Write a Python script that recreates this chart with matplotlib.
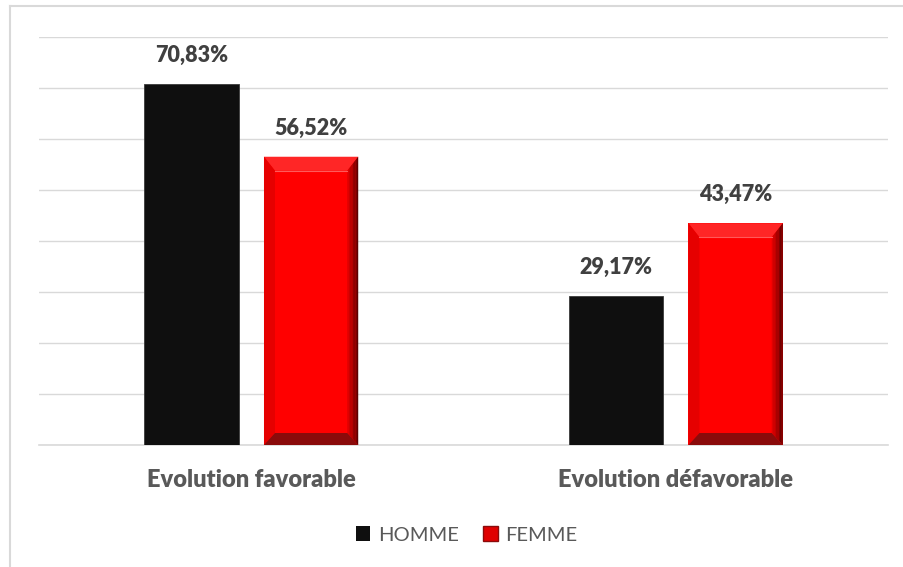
import matplotlib.pyplot as plt
from matplotlib.patches import Polygon, Patch
import numpy as np

categories = ["Evolution favorable", "Evolution défavorable"]
homme = [70.83, 29.17]
femme = [56.52, 43.47]
series_names = ["HOMME", "FEMME"]

plt.rcParams['font.family'] = ['Lato', 'DejaVu Sans']

W, H = 904, 567
fig = plt.figure(figsize=(W / 100, H / 100), dpi=100)
ax = fig.add_axes([39 / W, 1 - 445 / H, (888 - 39) / W, (445 - 37) / H])

# outer frame of the chart area (top and left edges only visible)
fig.add_artist(plt.Line2D([9.5 / W, 1.0], [1 - 6 / H, 1 - 6 / H], color="#d9d9d9", lw=1.5))
fig.add_artist(plt.Line2D([9.5 / W, 9.5 / W], [0, 1 - 6 / H], color="#d9d9d9", lw=1.5))

x = np.arange(len(categories))
width = 0.222
offset = 0.141

ax.set_xlim(-0.5, 1.5)
ax.set_ylim(0, 80)
ax.set_yticks(np.arange(0, 81, 10))
ax.yaxis.grid(True, color="#d9d9d9", lw=1)
ax.axhline(0, color="#d9d9d9", lw=1.2, clip_on=False, zorder=1)
ax.set_axisbelow(True)
for s in ax.spines.values():
    s.set_visible(False)
ax.tick_params(axis="y", left=False, labelleft=False)
ax.tick_params(axis="x", bottom=False, pad=14)

bars_h = ax.bar(x - offset, homme, width, color="#0f0f0f", edgecolor="#3a3a3a", lw=0.6, zorder=2)
bars_f = ax.bar(x + offset, femme, width, color="#ff0000", zorder=2)

# pixel -> data scale for the bevel on red bars
px_x = (1.5 - -0.5) / (888 - 39)
px_y = 80 / (445 - 37)


def bevel(ax, bar, bx=11, bt=14, bb=12):
    x0, y0 = bar.get_x(), bar.get_y()
    w, h = bar.get_width(), bar.get_height()
    x1, y1 = x0 + w, y0 + h
    dx, dt, db = bx * px_x, bt * px_y, bb * px_y
    ix0, ix1, iy0, iy1 = x0 + dx, x1 - dx, y0 + db, y1 - dt
    # top facet, lighter
    ax.add_patch(Polygon([(x0, y1), (x1, y1), (ix1, iy1), (ix0, iy1)], color="#ff2626", lw=0, zorder=3))
    # left facet
    ax.add_patch(Polygon([(x0, y0), (x0, y1), (ix0, iy1), (ix0, iy0)], color="#e60000", lw=0, zorder=3))
    # right facet, graded toward dark maroon
    n = 8
    cols = np.linspace([0.88, 0.0, 0.0], [0.36, 0.0, 0.0], n)
    for i in range(n):
        a = i / n
        b = (i + 1) / n
        xa, xb = ix1 + (x1 - ix1) * a, ix1 + (x1 - ix1) * b
        ya_t, yb_t = iy1 + (y1 - iy1) * a, iy1 + (y1 - iy1) * b
        ya_b, yb_b = iy0 - (iy0 - y0) * a, iy0 - (iy0 - y0) * b
        ax.add_patch(Polygon([(xa, ya_b), (xa, ya_t), (xb, yb_t), (xb, yb_b)],
                             color=cols[i], lw=0, zorder=3))
    # bottom facet, dark
    ax.add_patch(Polygon([(x0, y0), (x1, y0), (ix1, iy0), (ix0, iy0)], color="#8a0b0b", lw=0, zorder=3))
    # thin highlight line at inner top edge
    ax.plot([ix0, ix1], [iy1, iy1], color="#ff5a5a", lw=0.8, zorder=4)


for b in bars_f:
    bevel(ax, b)

for bars, vals in [(bars_h, homme), (bars_f, femme)]:
    for b, v in zip(bars, vals):
        ax.annotate(f"{v:.2f}%".replace(".", ","), (b.get_x() + b.get_width() / 2, v),
                    xytext=(0, 13), textcoords="offset points", ha="center", va="bottom",
                    fontsize=15.5, fontweight="heavy", color="#404040")

ax.set_xticks(x)
ax.set_xticklabels(categories, fontsize=17, fontweight="heavy", color="#595959")

handles = [Patch(facecolor="#0f0f0f"), Patch(facecolor="#e00000", edgecolor="#8a0b0b")]
fig.legend(handles, series_names, loc="center", bbox_to_anchor=(467 / W, 1 - 535 / H), ncol=2,
           frameon=False, fontsize=14.5, handlelength=0.7, handleheight=0.7, handletextpad=0.4,
           columnspacing=1.2, labelcolor="#595959")

fig.savefig("out.png", dpi=100)
